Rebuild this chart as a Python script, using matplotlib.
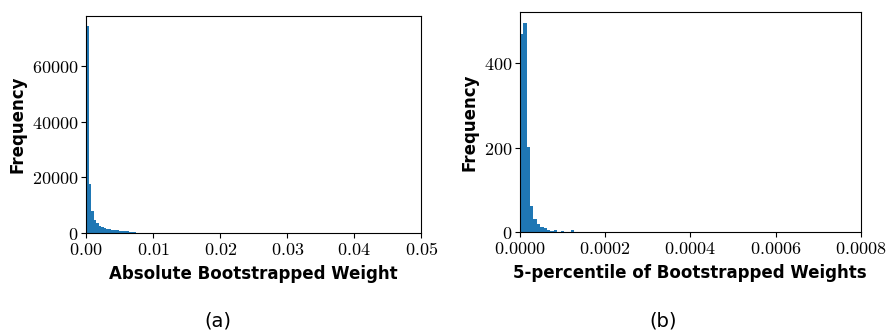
import numpy as np
import matplotlib
matplotlib.use('Agg')
import matplotlib.pyplot as plt
from matplotlib.ticker import FuncFormatter

plt.rcParams['mathtext.fontset'] = 'cm'

# (a) absolute bootstrapped weight, bin width 0.000375
w_a = 0.000375
counts_a = [74600, 17700, 8000, 4700, 3500, 2600, 2050, 1800, 1600, 1350,
            1200, 1080, 950, 830, 750, 650, 580, 520, 470, 420,
            150, 80, 40, 20]
edges_a = np.arange(len(counts_a) + 1) * w_a

# (b) 5-percentile of bootstrapped weights, bin width 8e-6
w_b = 8e-6
counts_b = [468, 496, 202, 63, 30, 20, 12, 9, 6, 3,
            5, 0, 2.5, 0, 0, 4, 0]
edges_b = np.arange(len(counts_b) + 1) * w_b

xticks_a = [0.00, 0.01, 0.02, 0.03, 0.04, 0.05]
yticks_a = [0, 20000, 40000, 60000]
xticks_b = [0.0000, 0.0002, 0.0004, 0.0006, 0.0008]
yticks_b = [0, 200, 400]

fig = plt.figure(figsize=(8.87, 3.34), dpi=100)
ax1 = fig.add_axes([0.097, 0.3024, 0.378, 0.651])
ax2 = fig.add_axes([0.586, 0.305, 0.3845, 0.659])

label_font = dict(family='DejaVu Sans', weight='bold', size=12)


def tex_fmt(dec):
    return FuncFormatter(lambda v, p: r'$%.*f$' % (dec, v))


for ax, edges, counts, xt, yt, dec, xlab in [
        (ax1, edges_a, counts_a, xticks_a, yticks_a, 2, 'Absolute Bootstrapped Weight'),
        (ax2, edges_b, counts_b, xticks_b, yticks_b, 4, '5-percentile of Bootstrapped Weights')]:
    ax.hist(edges[:-1], bins=edges, weights=counts, color='#1f77b4')
    ax.set_xticks(xt)
    ax.set_yticks(yt)
    ax.set_xlim(xt[0], xt[-1])
    ax.xaxis.set_major_formatter(tex_fmt(dec))
    ax.yaxis.set_major_formatter(tex_fmt(0))
    ax.tick_params(labelsize=13, length=3.5)
    ax.tick_params(axis='x', pad=2.5)
    ax.tick_params(axis='y', pad=2)
    ax.set_xlabel(xlab, fontdict=label_font, labelpad=4)
    ax.set_ylabel('Frequency', fontdict=label_font, labelpad=4)

fig.text(218 / 887, 1 - 321 / 334, '(a)', ha='center', va='center',
         family='DejaVu Sans', size=14)
fig.text(663 / 887, 1 - 321 / 334, '(b)', ha='center', va='center',
         family='DejaVu Sans', size=14)

fig.savefig('out.png', dpi=100)
